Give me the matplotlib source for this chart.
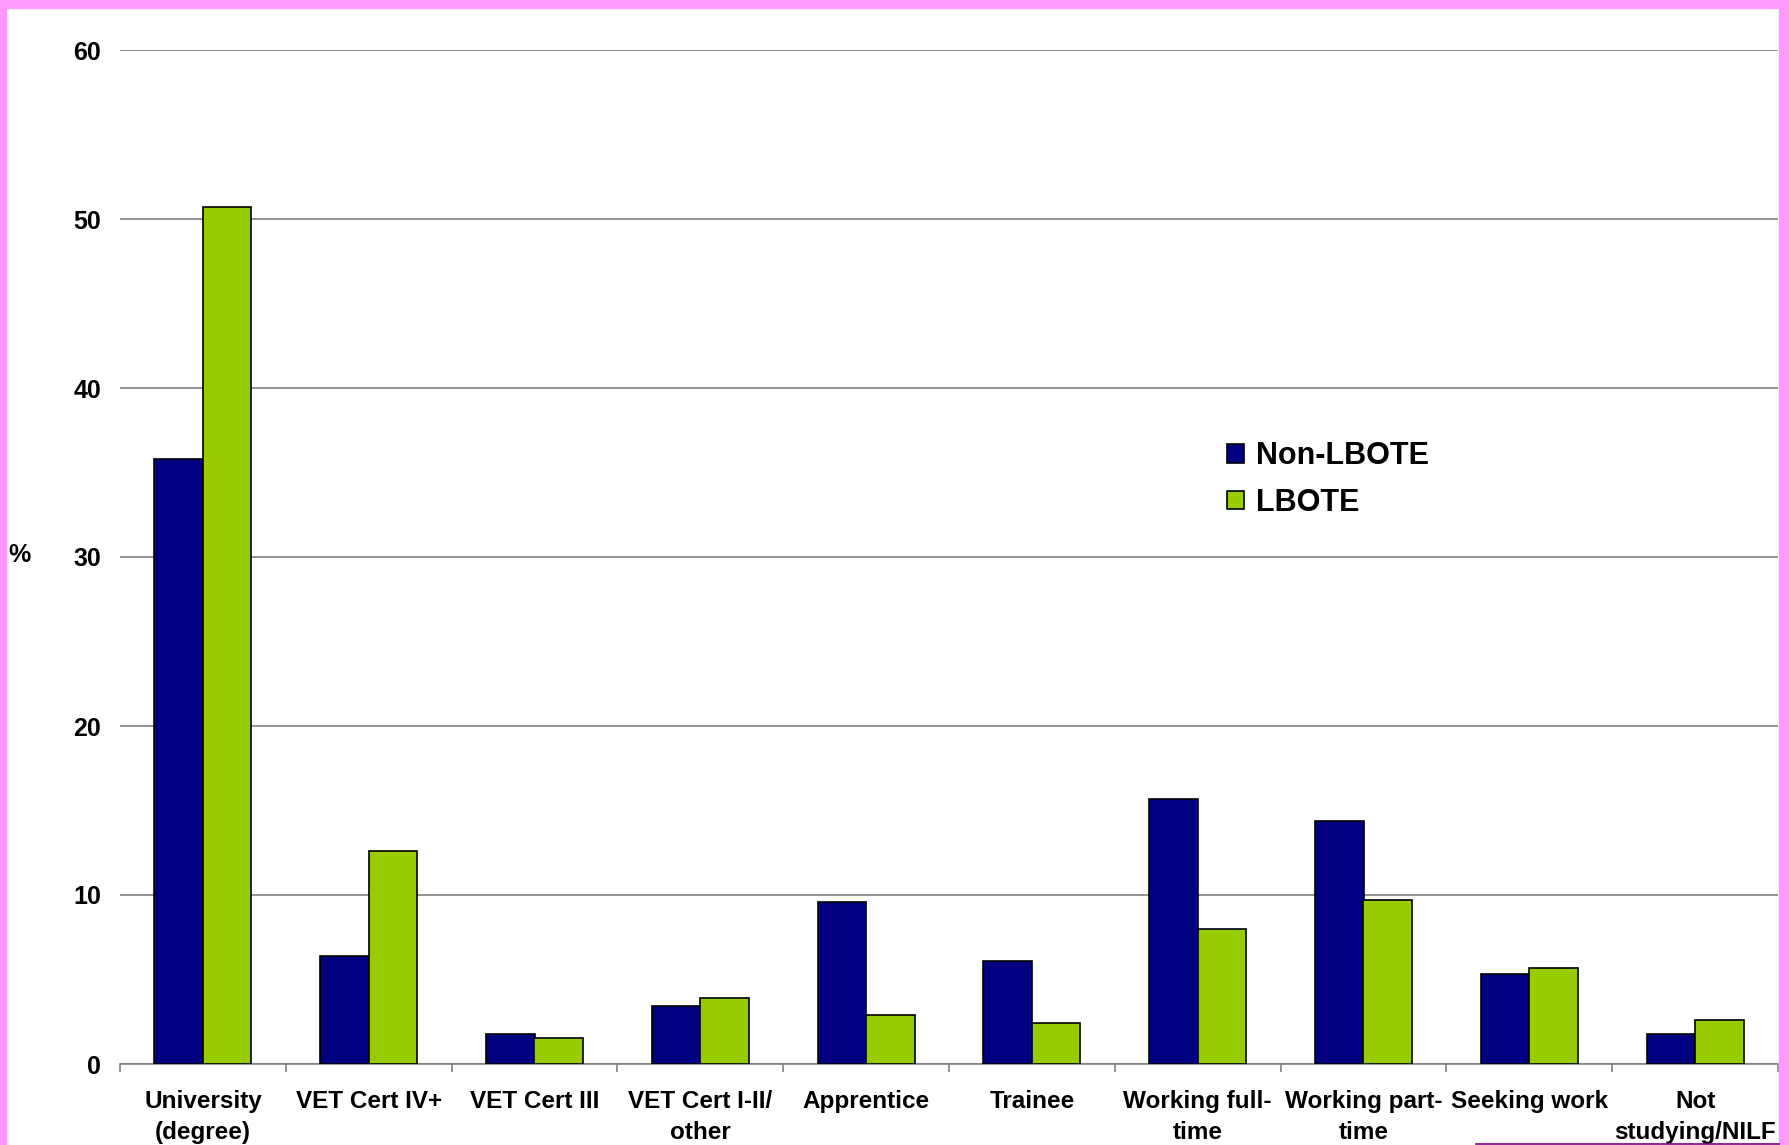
import matplotlib
matplotlib.use("Agg")
import matplotlib.pyplot as plt
from matplotlib.patches import Rectangle
from matplotlib.lines import Line2D
import numpy as np

categories = ["University\n(degree)", "VET Cert IV+", "VET Cert III", "VET Cert I-II/\nother",
              "Apprentice", "Trainee", "Working full-\ntime", "Working part-\ntime",
              "Seeking work", "Not\nstudying/NILF"]
non_lbote = [35.8, 6.4, 1.8, 3.45, 9.6, 6.1, 15.7, 14.4, 5.3, 1.8]
lbote = [50.7, 12.6, 1.55, 3.9, 2.9, 2.4, 8.0, 9.7, 5.7, 2.6]
yticks = [0, 10, 20, 30, 40, 50, 60]

plt.rcParams['font.family'] = ['Liberation Sans', 'DejaVu Sans']
plt.rcParams['font.weight'] = 'bold'

W, H = 1790, 1145
fig = plt.figure(figsize=(W / 100, H / 100), dpi=100)
fig.patch.set_facecolor('white')

# pink frame
pink = '#FF99FF'
fig.patches.append(Rectangle((0, 1 - 8 / H), 1, 8 / H, transform=fig.transFigure, color=pink, zorder=0))
fig.patches.append(Rectangle((0, 0), 6 / W, 1, transform=fig.transFigure, color=pink, zorder=0))
fig.patches.append(Rectangle((1 - 11 / W, 0), 11 / W, 1, transform=fig.transFigure, color=pink, zorder=0))
fig.lines.append(Line2D([1476 / W, 1779 / W], [0.6 / H, 0.6 / H], transform=fig.transFigure,
                        color='#800080', lw=1.2))

ax = fig.add_axes([120 / W, (H - 1064) / H, (1778 - 120) / W, (1064 - 50) / H])
ax.set_facecolor('none')

x = np.arange(len(categories))
bw = 0.293
ax.bar(x + 0.5 - bw, non_lbote, width=bw, align='edge', color='#000080',
       edgecolor='black', linewidth=1.2, label='Non-LBOTE', zorder=3)
ax.bar(x + 0.5, lbote, width=bw, align='edge', color='#99CC00',
       edgecolor='black', linewidth=1.2, label='LBOTE', zorder=3)

ax.set_xlim(0, len(categories))
ax.set_ylim(0, 60)
ax.set_yticks(yticks)
ax.set_yticklabels([str(v) for v in yticks], fontsize=18, fontweight='bold')
ax.tick_params(axis='y', length=0, pad=13.5)
ax.yaxis.grid(True, color='#808080', linewidth=1.2, zorder=0)
ax.set_axisbelow(True)

ax.set_xticks(x + 0.5)
ax.set_xticklabels(categories, fontsize=17.5, fontweight='bold', linespacing=1.45)
ax.set_xticks(np.arange(len(categories) + 1), minor=True)
ax.tick_params(axis='x', which='major', length=0, pad=18.5)
ax.tick_params(axis='x', which='minor', length=6, width=1.2, color='#808080', direction='out')

for s in ['left', 'top', 'right']:
    ax.spines[s].set_visible(False)
ax.spines['bottom'].set_color('#808080')
ax.spines['bottom'].set_linewidth(1.2)

fig.text(20 / W, 1 - 555 / H, '%', fontsize=18, fontweight='bold', ha='center', va='center')

leg = ax.legend(loc='upper left', bbox_to_anchor=(1212 / W, 1 - 426 / H),
                bbox_transform=fig.transFigure, frameon=False, borderpad=0,
                prop={'family': 'Liberation Sans', 'weight': 'bold', 'size': 22},
                handlelength=0.55, handleheight=0.55, handletextpad=0.4, labelspacing=0.55)

fig.savefig('out.png', dpi=100, facecolor='white')
